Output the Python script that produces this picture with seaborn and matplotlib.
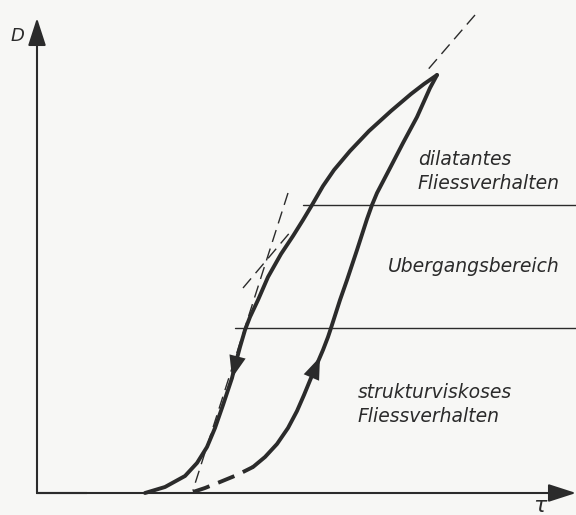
"""
Hysteresis loop D(tau): strukturviskos -> dilatant
"""

import matplotlib
matplotlib.use("Agg")
import matplotlib.pyplot as plt
import seaborn as sns

# shear stress tau / shear rate D, arbitrary units
down_tau = [4.00, 3.87, 3.74, 3.54, 3.32, 3.13, 2.97, 2.86, 2.75, 2.66, 2.56, 2.44,
            2.31, 2.21, 2.13, 2.08, 2.03, 1.99, 1.95, 1.86, 1.78, 1.70, 1.60, 1.48,
            1.28, 1.08]
down_D = [4.18, 4.09, 3.99, 3.82, 3.62, 3.42, 3.23, 3.07, 2.88, 2.73, 2.57, 2.39,
          2.16, 1.93, 1.76, 1.63, 1.46, 1.31, 1.15, 0.88, 0.65, 0.46, 0.30, 0.17,
          0.06, 0.00]

up_dash_tau = [1.56, 1.68, 1.83, 2.00, 2.16]
up_dash_D = [0.01, 0.05, 0.11, 0.18, 0.26]

up_tau = [2.16, 2.28, 2.40, 2.51, 2.60, 2.67, 2.74, 2.83, 2.86, 2.91, 2.94, 3.03,
          3.10, 3.20, 3.30, 3.35, 3.40, 3.52, 3.66, 3.80, 3.93, 4.00]
up_D = [0.26, 0.36, 0.49, 0.65, 0.82, 0.98, 1.15, 1.36, 1.43, 1.56, 1.65, 1.93,
        2.13, 2.43, 2.74, 2.88, 3.00, 3.23, 3.50, 3.76, 4.05, 4.18]

# tangents (start/end)
tangent_top = ([4.38, 3.88], [4.78, 4.20])
tangent_steep = ([2.51, 1.56], [3.00, 0.03])
tangent_mid = ([2.06, 2.55], [2.05, 2.63])

# region borders: (D level, tau where line starts)
borders_D = [2.88, 1.65]
borders_start = [2.66, 1.98]

labels = ["dilatantes\nFliessverhalten", "Ubergangsbereich",
          "strukturviskoses\nFliessverhalten"]
label_pos = [(3.81, 3.215), (3.51, 2.26), (3.21, 0.885)]

ink = "#2b2b2b"
paper = "#f7f7f5"

sns.set_theme(style="white")
plt.rcParams["font.family"] = ["DejaVu Sans"]

fig = plt.figure(figsize=(5.76, 5.15), dpi=100, facecolor=paper)
ax = fig.add_axes([0, 0, 1, 1])
ax.set_facecolor(paper)
ax.set_xlim(-0.37, 5.39)
ax.set_ylim(-0.22, 4.93)
ax.axis("off")

# axes with arrow heads
head = dict(arrowstyle="-|>,head_length=1.7,head_width=0.55", color=ink,
            lw=1.5, mutation_scale=10, shrinkA=0, shrinkB=0)
ax.annotate("", xy=(0, 4.75), xytext=(0, 0), arrowprops=head)
ax.annotate("", xy=(5.39, 0), xytext=(0, 0), arrowprops=head)
ax.plot([-0.01, 0.5], [0, 0], color=ink, lw=1.5, solid_capstyle="butt")
ax.text(-0.2, 4.57, "D", fontsize=13, style="italic", color=ink,
        ha="center", va="center")
ax.text(5.03, -0.13, "τ", fontsize=16, style="italic", color=ink,
        ha="center", va="center")

# region borders
for lev, x0 in zip(borders_D, borders_start):
    ax.plot([x0, 5.39], [lev, lev], color=ink, lw=1.0)

# dashed tangents
for tx, ty in [tangent_top, tangent_steep, tangent_mid]:
    ax.plot(tx, ty, color=ink, lw=1.0, dashes=(9, 5))

# hysteresis loop
sns.lineplot(x=down_tau, y=down_D, sort=False, estimator=None, ax=ax,
             color=ink, lw=2.8, solid_capstyle="round", solid_joinstyle="round")
sns.lineplot(x=up_tau, y=up_D, sort=False, estimator=None, ax=ax,
             color=ink, lw=2.8, solid_capstyle="round", solid_joinstyle="round")
sns.lineplot(x=up_dash_tau, y=up_dash_D, sort=False, estimator=None, ax=ax,
             color=ink, lw=2.8, dashes=False, linestyle=(0, (4.5, 2.4)))

# direction arrows on the loop
arr = dict(arrowstyle="-|>,head_length=1.6,head_width=0.6", color=ink,
           lw=0, mutation_scale=10, shrinkA=0, shrinkB=0)
ax.annotate("", xy=(down_tau[18], down_D[18]),
            xytext=(down_tau[16], down_D[16]), arrowprops=arr)
ax.annotate("", xy=(up_tau[7], up_D[7]),
            xytext=(up_tau[5], up_D[5]), arrowprops=arr)

for txt, (x, y) in zip(labels, label_pos):
    ax.text(x, y, txt, fontsize=13.5, style="italic", color=ink,
            ha="left", va="center", linespacing=1.35)

fig.savefig("out.png", dpi=100, facecolor=paper)
